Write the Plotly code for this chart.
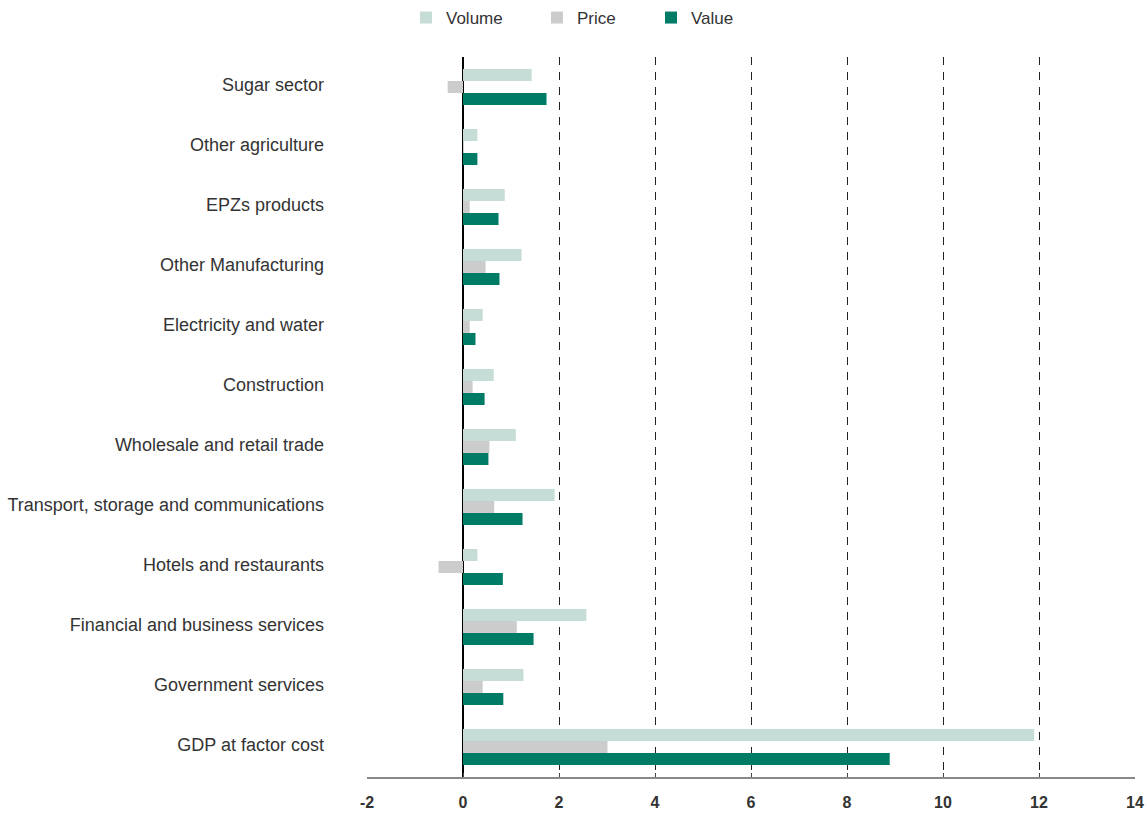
import plotly.graph_objects as go

categories = [
    "Sugar sector", "Other agriculture", "EPZs products", "Other Manufacturing",
    "Electricity and water", "Construction", "Wholesale and retail trade",
    "Transport, storage and communications", "Hotels and restaurants",
    "Financial and business services", "Government services", "GDP at factor cost",
]
volume = [1.43, 0.30, 0.87, 1.22, 0.41, 0.64, 1.10, 1.91, 0.30, 2.57, 1.26, 11.9]
price = [-0.32, 0.01, 0.14, 0.47, 0.14, 0.20, 0.55, 0.65, -0.51, 1.12, 0.41, 3.01]
value = [1.74, 0.30, 0.74, 0.76, 0.26, 0.45, 0.53, 1.24, 0.83, 1.47, 0.84, 8.89]
x_ticks = [-2, 0, 2, 4, 6, 8, 10, 12, 14]

series = [("Volume", volume, "#C5DDD6"), ("Price", price, "#CCCCCC"), ("Value", value, "#007B66")]

W, H = 1147, 818
legend_px = [406, 537, 651]  # left edges of legend items (px)

fig = go.Figure()
for i, (name, vals, col) in enumerate(series):
    fig.add_trace(go.Bar(
        y=categories, x=vals, name=name, orientation="h",
        marker=dict(color=col, line=dict(width=0)),
        legend="legend" if i == 0 else f"legend{i+1}",
    ))

legend_common = dict(
    orientation="h", yanchor="middle", y=1 - 18 / H, yref="container",
    xref="container", xanchor="left",
    font=dict(size=17, color="#333333"), itemwidth=30,
    bgcolor="rgba(0,0,0,0)",
)

fig.update_layout(
    width=W, height=H,
    margin=dict(l=367, r=12, t=57, b=41, autoexpand=False),
    paper_bgcolor="white", plot_bgcolor="white",
    barmode="group", bargap=0.4, bargroupgap=0,
    font=dict(family="Liberation Sans, Arial, sans-serif", size=18, color="#333333"),
    showlegend=True,
    legend=dict(x=legend_px[0] / W, **legend_common),
    legend2=dict(x=legend_px[1] / W, **legend_common),
    legend3=dict(x=legend_px[2] / W, **legend_common),
    xaxis=dict(
        range=[-2, 14], tickvals=x_ticks, ticktext=[str(t) for t in x_ticks],
        showgrid=True, gridcolor="#222222", gridwidth=1, griddash="8px,7px",
        zeroline=True, zerolinecolor="#000000", zerolinewidth=1.5,
        showline=True, linecolor="#888888", linewidth=2,
        ticks="inside", ticklen=4, tickcolor="#444444", automargin=False,
        tickfont=dict(size=16, color="#333333", family="Liberation Sans, Arial, sans-serif", weight="bold"),
        ticklabelstandoff=10,
    ),
    yaxis=dict(
        range=[11.5, -0.5], showgrid=False, zeroline=False, showline=False,
        ticks="", ticklabelstandoff=42, ticklabelshift=2, automargin=False,
        tickfont=dict(size=18, color="#333333"),
    ),
)

fig.write_html(
    "out.html",
    config={"displayModeBar": False},
    post_script="document.body.style.margin='0';document.body.style.overflow='hidden';",
)
